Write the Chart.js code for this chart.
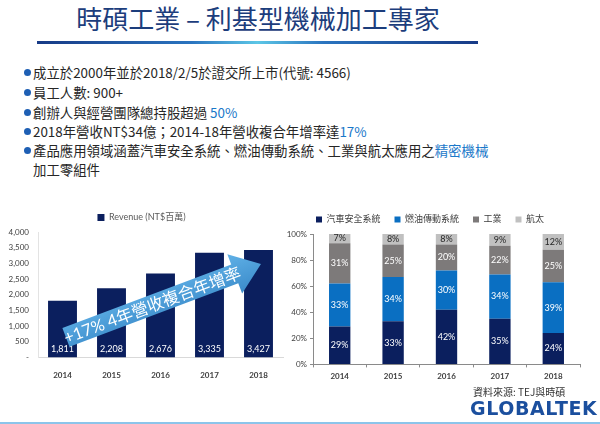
<!DOCTYPE html>
<html>
<head>
<meta charset="utf-8">
<script src="https://cdn.jsdelivr.net/npm/chart.js@4.4.0/dist/chart.umd.min.js"></script>
<style>
  html, body { margin: 0; padding: 0; background: #fff; }
  body { width: 600px; height: 424px; position: relative; overflow: hidden; font-family: "Noto Sans CJK TC", "Noto Sans", sans-serif; }
  #title { position: absolute; left: 0; width: 516px; top: 1px; text-align: center; font-size: 26px; color: #1c3d7c; line-height: 34px; }
  #rule { position: absolute; left: 37px; width: 441px; top: 41px; height: 3px;
    background: linear-gradient(to right, #173a86 0%, #2a74bf 35%, #5cc6e6 50%, #2a74bf 65%, #173a86 100%); }
  .b { position: absolute; left: 33px; font-size: 13.4px; color: #262626; line-height: 18px; white-space: nowrap; }
  .b:before { content: ""; position: absolute; left: -9px; top: 6px; width: 7px; height: 7px; border-radius: 50%; background: #1e5fb4; }
  .b.nob:before { display: none; }
  .hl { color: #1a78c9; }
  #c1 { position: absolute; left: 0; top: 203px; }
  #c2 { position: absolute; left: 280px; top: 201px; }
  #src { position: absolute; left: 473px; top: 384px; font-size: 10px; color: #333; }
  #logo { position: absolute; left: 470px; top: 397px; font-family: "DejaVu Sans", sans-serif; font-weight: bold; font-size: 19px; color: #1b4f9e; letter-spacing: 0.6px; }
  #bot { position: absolute; left: 0; width: 600px; top: 422px; height: 2px; background: #8cc4ea; }
</style>
</head>
<body>
<div id="title">時碩工業 – 利基型機械加工專家</div>
<div id="rule"></div>
<div class="b" style="top:63px">成立於2000年並於2018/2/5於證交所上市(代號: 4566)</div>
<div class="b" style="top:83px">員工人數: 900+</div>
<div class="b" style="top:103px">創辦人與經營團隊總持股超過 <span class="hl">50%</span></div>
<div class="b" style="top:122px">2018年營收NT$34億；2014-18年營收複合年增率達<span class="hl">17%</span></div>
<div class="b" style="top:141px">產品應用領域涵蓋汽車安全系統、燃油傳動系統、工業與航太應用之<span class="hl">精密機械</span></div>
<div class="b nob" style="top:160px">加工零組件</div>

<canvas id="c1" width="290" height="182"></canvas>
<canvas id="c2" width="320" height="184"></canvas>

<div id="src">資料來源: TEJ與時碩</div>
<div id="logo">GLOBALTEK</div>
<div id="bot"></div>

<script>
// data
const years = ["2014", "2015", "2016", "2017", "2018"];
const revenue = [1811, 2208, 2676, 3335, 3427];
const revenueLabel = "Revenue (NT$百萬)";

const segNames = ["汽車安全系統", "燃油傳動系統", "工業", "航太"];
const segAuto = [29, 33, 42, 35, 24];
const segFuel = [33, 34, 30, 34, 39];
const segIndustry = [31, 25, 20, 22, 25];
const segAero = [7, 8, 8, 9, 12];

const arrowText = "+17% 4年營收複合年增率";

const navy = "#0b1f5e";
const FONT = "Lato, 'Noto Sans CJK TC', sans-serif";

Chart.defaults.font.family = FONT;
Chart.defaults.animation = false;

// labels inside bars
const barLabels = {
  id: "barLabels",
  afterDatasetsDraw(chart, args, opts) {
    const ctx = chart.ctx;
    ctx.save();
    ctx.font = "9px " + FONT;
    ctx.textAlign = "center";
    ctx.textBaseline = "middle";
    chart.data.datasets.forEach((ds, di) => {
      const meta = chart.getDatasetMeta(di);
      meta.data.forEach((bar, i) => {
        const v = ds.data[i];
        let y = opts.bottom ? bar.base - 8 : (bar.y + bar.base) / 2;
        ctx.fillStyle = (ds.labelColor || "#fff");
        ctx.fillText(opts.fmt(v), bar.x, y);
      });
    });
    ctx.restore();
  }
};

// big arrow over the revenue bars
const cagrArrow = {
  id: "cagrArrow",
  afterDraw(chart) {
    const xs = chart.scales.x, ys = chart.scales.y;
    const px = (i, v) => ({ x: xs.getPixelForValue(0) + i * (xs.getPixelForValue(1) - xs.getPixelForValue(0)), y: ys.getPixelForValue(v) });
    const a = px(0.07, 640), b = px(4.05, 2980);
    const ang = Math.atan2(b.y - a.y, b.x - a.x);
    const len = Math.hypot(b.x - a.x, b.y - a.y);
    const ctx = chart.ctx;
    ctx.save();
    ctx.translate(a.x, a.y);
    ctx.rotate(ang);
    const g = ctx.createLinearGradient(0, -20, 0, 20);
    g.addColorStop(0, "#5fb0e6");
    g.addColorStop(1, "#3c8ccb");
    ctx.fillStyle = g;
    ctx.beginPath();
    ctx.moveTo(0, -10);
    ctx.lineTo(len - 28, -10);
    ctx.lineTo(len - 28, -21);
    ctx.lineTo(len, 0);
    ctx.lineTo(len - 28, 21);
    ctx.lineTo(len - 28, 10);
    ctx.lineTo(0, 10);
    ctx.closePath();
    ctx.fill();
    ctx.fillStyle = "#fff";
    ctx.font = "16.5px " + FONT;
    ctx.textAlign = "center";
    ctx.textBaseline = "middle";
    ctx.fillText(arrowText, len / 2 - 12, 1);
    ctx.restore();
  }
};

new Chart(document.getElementById("c1"), {
  type: "bar",
  data: {
    labels: years,
    datasets: [{
      label: revenueLabel,
      data: revenue,
      backgroundColor: navy,
      barPercentage: 0.59,
      categoryPercentage: 1
    }]
  },
  options: {
    responsive: false,
    layout: { padding: { top: 0, right: 7, bottom: 0, left: 0 } },
    plugins: {
      legend: {
        labels: { boxWidth: 7, boxHeight: 7, color: "#595959", font: { size: 9 }, padding: 10 }
      },
      tooltip: { enabled: false },
      barLabels: { bottom: true, fmt: v => v.toLocaleString("en-US") }
    },
    scales: {
      x: {
        grid: { display: false },
        border: { color: "#d9d9d9" },
        ticks: { color: "#404040", font: { size: 8, weight: "bold" }, padding: 5 }
      },
      y: {
        min: 0, max: 4000,
        afterFit: s => { s.width = 38; },
        grid: { display: false, drawTicks: false },
        border: { color: "#e3e3e3" },
        ticks: {
          stepSize: 500, color: "#404040", font: { size: 8 }, padding: 9,
          callback: v => v === 0 ? "-" : v.toLocaleString("en-US")
        }
      }
    }
  },
  plugins: [barLabels, cagrArrow]
});

new Chart(document.getElementById("c2"), {
  type: "bar",
  data: {
    labels: years,
    datasets: [
      { label: segNames[0], data: segAuto, backgroundColor: navy },
      { label: segNames[1], data: segFuel, backgroundColor: "#0a6fc2" },
      { label: segNames[2], data: segIndustry, backgroundColor: "#7d7a7a" },
      { label: segNames[3], data: segAero, backgroundColor: "#c0c0c0", labelColor: "#262626" }
    ].map(d => Object.assign(d, { barPercentage: 0.4, categoryPercentage: 1 }))
  },
  options: {
    responsive: false,
    layout: { padding: { top: 0, right: 20, bottom: 0, left: 0 } },
    plugins: {
      legend: {
        labels: { boxWidth: 6, boxHeight: 6, color: "#404040", font: { size: 9 }, padding: 14 }
      },
      tooltip: { enabled: false },
      barLabels: { bottom: false, fmt: v => v + "%" }
    },
    scales: {
      x: {
        stacked: true,
        grid: { display: true, drawOnChartArea: false, tickLength: 3, color: "#8a8a8a", offset: true },
        border: { color: "#8a8a8a" },
        ticks: { color: "#404040", font: { size: 8, weight: "bold" }, padding: 4 }
      },
      y: {
        stacked: true,
        min: 0, max: 100,
        afterFit: s => { s.width = 33; },
        grid: { display: true, drawOnChartArea: false, tickLength: 3, color: "#8a8a8a" },
        border: { color: "#8a8a8a" },
        ticks: { stepSize: 20, color: "#404040", font: { size: 8 }, padding: 3, callback: v => v + "%" }
      }
    }
  },
  plugins: [barLabels]
});
</script>
</body>
</html>
